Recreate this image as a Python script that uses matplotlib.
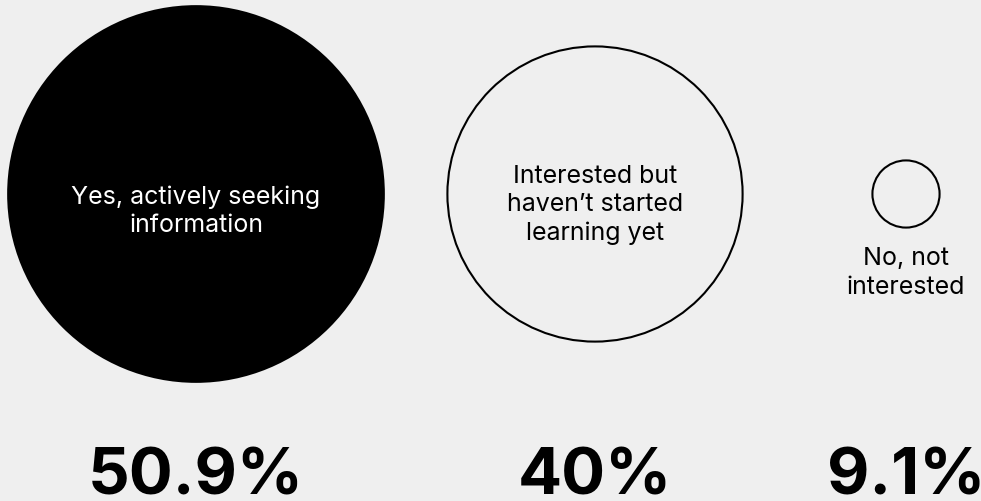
import matplotlib.pyplot as plt
from matplotlib.patches import Circle

# data
labels = ['Yes, actively seeking\ninformation',
          'Interested but\nhaven\u2019t started\nlearning yet',
          'No, not\ninterested']
values = [50.9, 40.0, 9.1]
pct_text = ['50.9%', '40%', '9.1%']

bg = '#efefef'
px_per_pct = 3.69          # radius in pixels per percentage point
centers_x = [196, 595, 906]
center_y = 195

fig = plt.figure(figsize=(9.81, 5.02), dpi=100, facecolor=bg)
ax = fig.add_axes([0, 0, 1, 1])
ax.set_facecolor(bg)
ax.set_xlim(0, 981)
ax.set_ylim(502, 0)
ax.set_aspect('equal')
ax.axis('off')

label_y = [211, 205, 273]
for i in range(len(values)):
    r = values[i] * px_per_pct
    cx = centers_x[i]
    if i == 0:
        ax.add_patch(Circle((cx, center_y), r, facecolor='black', edgecolor='black', lw=1.5))
        col = 'white'
    else:
        ax.add_patch(Circle((cx, center_y), r, facecolor='none', edgecolor='black', lw=1.5))
        col = 'black'
    ax.text(cx, label_y[i], labels[i], color=col, ha='center', va='center',
            fontsize=18, family='Inter', linespacing=1.3)
    ax.text(cx, 495, pct_text[i], color='black', ha='center', va='baseline',
            fontsize=47, family='Inter', fontweight='bold')

fig.savefig('out.png', dpi=100, facecolor=bg)
